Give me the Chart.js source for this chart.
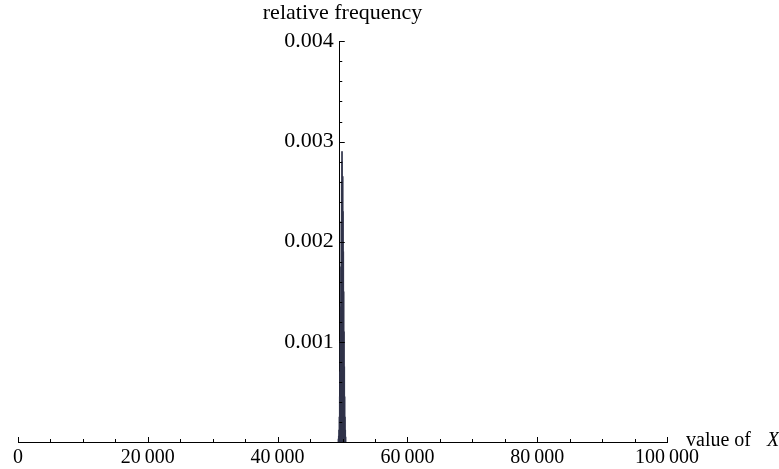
<!DOCTYPE html>
<html>
<head>
<meta charset="utf-8">
<script src="https://cdn.jsdelivr.net/npm/chart.js@4"></script>
<style>
  html, body { margin: 0; padding: 0; background: #fff; }
  #wrap { width: 779px; height: 469px; }
</style>
</head>
<body>
<div id="wrap"><canvas id="hist"></canvas></div>
<script>
// histogram bins (value of X) and their relative frequency
const binCenters = [49325, 49375, 49425, 49475, 49525, 49575, 49625, 49675, 49725, 49775,
  49825, 49875, 49925, 49975, 50025, 50075, 50125, 50175, 50225, 50275,
  50325, 50375, 50425, 50475, 50525];
const relFreq = [0.00003, 0.00006, 0.00012, 0.00025, 0.00045, 0.0007, 0.001, 0.00135, 0.00175, 0.0022,
  0.0026, 0.0029, 0.0028, 0.0029, 0.00265, 0.00265, 0.0023, 0.0019, 0.0015, 0.0011,
  0.00075, 0.00045, 0.00025, 0.00012, 0.00005];
const xTicks = [0, 20000, 40000, 60000, 80000, 100000];
const yTicks = [0.001, 0.002, 0.003, 0.004];

const serif = '"Liberation Serif", "DejaVu Serif", serif';

const fmtThousands = v => {
  const s = String(v);
  return s.length > 3 ? s.slice(0, -3) + '\u2009' + s.slice(-3) : s;
};

// Mathematica style inward ticks plus the x axis label
const axisDecor = {
  id: 'axisDecor',
  afterDraw(chart) {
    const { ctx, scales: { x, y } } = chart;
    const x0 = x.getPixelForValue(49500);
    const y0 = y.getPixelForValue(0);
    ctx.save();
    ctx.strokeStyle = '#000';
    ctx.lineWidth = 1;
    ctx.beginPath();
    for (let v = 0; v <= 100000; v += 5000) {
      const px = Math.round(x.getPixelForValue(v)) + 0.5;
      const len = v % 20000 === 0 ? 5 : 3;
      ctx.moveTo(px, y0);
      ctx.lineTo(px, y0 - len);
    }
    for (let i = 1; i <= 20; i++) {
      const py = Math.round(y.getPixelForValue(i * 0.0002)) + 0.5;
      const len = i % 5 === 0 ? 5.5 : 3;
      ctx.moveTo(x0, py);
      ctx.lineTo(x0 + len, py);
    }
    ctx.stroke();

    ctx.fillStyle = '#000';
    ctx.textBaseline = 'alphabetic';
    ctx.textAlign = 'left';
    ctx.font = '20px ' + serif;
    ctx.fillText('value of', 686, 446);
    ctx.font = 'italic 20px ' + serif;
    ctx.fillText('X', 767, 446);
    ctx.restore();
  }
};

new Chart(document.getElementById('hist'), {
  type: 'bar',
  data: {
    datasets: [{
      data: binCenters.map((c, i) => ({ x: c, y: relFreq[i] })),
      backgroundColor: '#30334a',
      borderWidth: 0,
      barPercentage: 1,
      categoryPercentage: 1
    }]
  },
  plugins: [axisDecor],
  options: {
    responsive: true,
    maintainAspectRatio: false,
    animation: false,
    layout: { padding: { left: 18, right: 112, top: 0, bottom: 0 } },
    plugins: {
      legend: { display: false },
      tooltip: { enabled: false },
      title: {
        display: true,
        text: 'relative frequency',
        fullSize: false,
        color: '#000',
        font: { family: serif, size: 22, weight: 'normal' },
        padding: { top: 0, bottom: 15 }
      }
    },
    scales: {
      x: {
        type: 'linear',
        min: 0,
        max: 100000,
        offset: false,
        afterBuildTicks: s => { s.ticks = xTicks.map(v => ({ value: v })); },
        afterFit: s => { s.height = 27; },
        grid: { display: false, drawTicks: false },
        border: { display: true, color: '#000', width: 1 },
        ticks: {
          color: '#000',
          padding: 4,
          maxRotation: 0,
          autoSkip: false,
          font: { family: serif, size: 20 },
          callback: v => fmtThousands(v)
        }
      },
      y: {
        position: { x: 49500 },
        min: 0,
        max: 0.004,
        afterBuildTicks: s => { s.ticks = yTicks.map(v => ({ value: v })); },
        grid: { display: false, drawTicks: false },
        border: { display: true, color: '#000', width: 1 },
        ticks: {
          color: '#000',
          autoSkip: false,
          font: { family: serif, size: 22 },
          callback: v => v.toFixed(3) + '\u00a0'
        }
      }
    }
  }
});
</script>
</body>
</html>
